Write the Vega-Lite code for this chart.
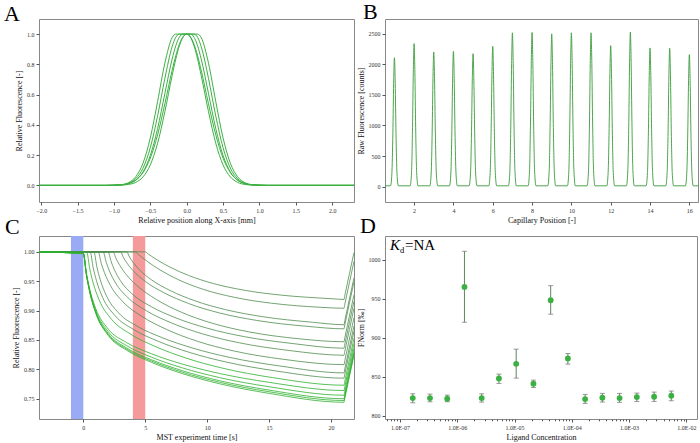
{
  "$schema": "https://vega.github.io/schema/vega-lite/v6.json",
  "background": "white",
  "padding": {"left": 3, "top": 0, "right": 0, "bottom": 0},
  "columns": 2,
  "spacing": {"row": 34, "column": 31},
  "bounds": "flush",
  "datasets": {
    "a": [
      {"x": -2.03, "a1": 0, "a2": 0, "a3": 0, "a4": 0, "a5": 0},
      {"x": -1.1, "a1": 0, "a2": 0, "a3": 0, "a4": 0, "a5": 0},
      {"x": -0.9, "a1": 0.004, "a2": 0.002, "a3": 0.003, "a4": 0.004, "a5": 0.005},
      {"x": -0.8, "a1": 0.012, "a2": 0.006, "a3": 0.011, "a4": 0.014, "a5": 0.018},
      {"x": -0.7, "a1": 0.035, "a2": 0.02, "a3": 0.034, "a4": 0.044, "a5": 0.057},
      {"x": -0.6, "a1": 0.085, "a2": 0.056, "a3": 0.089, "a4": 0.114, "a5": 0.147},
      {"x": -0.5, "a1": 0.18, "a2": 0.135, "a3": 0.198, "a4": 0.249, "a5": 0.314},
      {"x": -0.4, "a1": 0.334, "a2": 0.278, "a3": 0.375, "a4": 0.458, "a5": 0.554},
      {"x": -0.3, "a1": 0.539, "a2": 0.487, "a3": 0.607, "a4": 0.707, "a5": 0.808},
      {"x": -0.2, "a1": 0.76, "a2": 0.726, "a3": 0.835, "a4": 0.917, "a5": 0.977},
      {"x": -0.15, "a1": 0.857, "a2": 0.835, "a3": 0.923, "a4": 0.979, "a5": 1},
      {"x": -0.1, "a1": 0.934, "a2": 0.923, "a3": 0.98, "a4": 1, "a5": 1},
      {"x": -0.05, "a1": 0.983, "a2": 0.98, "a3": 1, "a4": 1, "a5": 1},
      {"x": 0, "a1": 1, "a2": 1, "a3": 1, "a4": 1, "a5": 1},
      {"x": 0.05, "a1": 0.983, "a2": 0.98, "a3": 1, "a4": 1, "a5": 1},
      {"x": 0.1, "a1": 0.934, "a2": 0.923, "a3": 0.98, "a4": 1, "a5": 1},
      {"x": 0.15, "a1": 0.857, "a2": 0.835, "a3": 0.923, "a4": 0.979, "a5": 1},
      {"x": 0.2, "a1": 0.76, "a2": 0.726, "a3": 0.835, "a4": 0.917, "a5": 0.977},
      {"x": 0.3, "a1": 0.539, "a2": 0.487, "a3": 0.607, "a4": 0.707, "a5": 0.808},
      {"x": 0.4, "a1": 0.334, "a2": 0.278, "a3": 0.375, "a4": 0.458, "a5": 0.554},
      {"x": 0.5, "a1": 0.18, "a2": 0.135, "a3": 0.198, "a4": 0.249, "a5": 0.314},
      {"x": 0.6, "a1": 0.085, "a2": 0.056, "a3": 0.089, "a4": 0.114, "a5": 0.147},
      {"x": 0.7, "a1": 0.035, "a2": 0.02, "a3": 0.034, "a4": 0.044, "a5": 0.057},
      {"x": 0.8, "a1": 0.012, "a2": 0.006, "a3": 0.011, "a4": 0.014, "a5": 0.018},
      {"x": 0.9, "a1": 0.004, "a2": 0.002, "a3": 0.003, "a4": 0.004, "a5": 0.005},
      {"x": 1.1, "a1": 0, "a2": 0, "a3": 0, "a4": 0, "a5": 0},
      {"x": 2.3, "a1": 0, "a2": 0, "a3": 0, "a4": 0, "a5": 0}
    ],
    "b": [
      {"x": 0.52, "y": 12},
      {"x": 0.8, "y": 12}, {"x": 0.87, "y": 213}, {"x": 0.92, "y": 872}, {"x": 0.96, "y": 1690}, {"x": 1, "y": 2109}, {"x": 1.04, "y": 1690}, {"x": 1.08, "y": 872}, {"x": 1.13, "y": 213}, {"x": 1.2, "y": 12},
      {"x": 1.8, "y": 12}, {"x": 1.87, "y": 235}, {"x": 1.92, "y": 966}, {"x": 1.96, "y": 1874}, {"x": 2, "y": 2340}, {"x": 2.04, "y": 1874}, {"x": 2.08, "y": 966}, {"x": 2.13, "y": 235}, {"x": 2.2, "y": 12},
      {"x": 2.8, "y": 12}, {"x": 2.87, "y": 222}, {"x": 2.92, "y": 910}, {"x": 2.96, "y": 1765}, {"x": 3, "y": 2203}, {"x": 3.04, "y": 1765}, {"x": 3.08, "y": 910}, {"x": 3.13, "y": 222}, {"x": 3.2, "y": 12},
      {"x": 3.8, "y": 12}, {"x": 3.87, "y": 223}, {"x": 3.92, "y": 915}, {"x": 3.96, "y": 1774}, {"x": 4, "y": 2214}, {"x": 4.04, "y": 1774}, {"x": 4.08, "y": 915}, {"x": 4.13, "y": 223}, {"x": 4.2, "y": 12},
      {"x": 4.8, "y": 12}, {"x": 4.87, "y": 220}, {"x": 4.92, "y": 899}, {"x": 4.96, "y": 1742}, {"x": 5, "y": 2175}, {"x": 5.04, "y": 1742}, {"x": 5.08, "y": 899}, {"x": 5.13, "y": 220}, {"x": 5.2, "y": 12},
      {"x": 5.8, "y": 12}, {"x": 5.87, "y": 231}, {"x": 5.92, "y": 948}, {"x": 5.96, "y": 1839}, {"x": 6, "y": 2296}, {"x": 6.04, "y": 1839}, {"x": 6.08, "y": 948}, {"x": 6.13, "y": 231}, {"x": 6.2, "y": 12},
      {"x": 6.8, "y": 12}, {"x": 6.87, "y": 252}, {"x": 6.92, "y": 1039}, {"x": 6.96, "y": 2016}, {"x": 7, "y": 2517}, {"x": 7.04, "y": 2016}, {"x": 7.08, "y": 1039}, {"x": 7.13, "y": 252}, {"x": 7.2, "y": 12},
      {"x": 7.8, "y": 12}, {"x": 7.87, "y": 253}, {"x": 7.92, "y": 1041}, {"x": 7.96, "y": 2020}, {"x": 8, "y": 2522}, {"x": 8.04, "y": 2020}, {"x": 8.08, "y": 1041}, {"x": 8.13, "y": 253}, {"x": 8.2, "y": 12},
      {"x": 8.8, "y": 12}, {"x": 8.87, "y": 251}, {"x": 8.92, "y": 1032}, {"x": 8.96, "y": 2002}, {"x": 9, "y": 2500}, {"x": 9.04, "y": 2002}, {"x": 9.08, "y": 1032}, {"x": 9.13, "y": 251}, {"x": 9.2, "y": 12},
      {"x": 9.8, "y": 12}, {"x": 9.87, "y": 252}, {"x": 9.92, "y": 1039}, {"x": 9.96, "y": 2016}, {"x": 10, "y": 2517}, {"x": 10.04, "y": 2016}, {"x": 10.08, "y": 1039}, {"x": 10.13, "y": 252}, {"x": 10.2, "y": 12},
      {"x": 10.8, "y": 12}, {"x": 10.87, "y": 252}, {"x": 10.92, "y": 1039}, {"x": 10.96, "y": 2016}, {"x": 11, "y": 2517}, {"x": 11.04, "y": 2016}, {"x": 11.08, "y": 1039}, {"x": 11.13, "y": 252}, {"x": 11.2, "y": 12},
      {"x": 11.8, "y": 12}, {"x": 11.87, "y": 232}, {"x": 11.92, "y": 953}, {"x": 11.96, "y": 1848}, {"x": 12, "y": 2307}, {"x": 12.04, "y": 1848}, {"x": 12.08, "y": 953}, {"x": 12.13, "y": 232}, {"x": 12.2, "y": 12},
      {"x": 12.8, "y": 12}, {"x": 12.87, "y": 254}, {"x": 12.92, "y": 1044}, {"x": 12.96, "y": 2025}, {"x": 13, "y": 2528}, {"x": 13.04, "y": 2025}, {"x": 13.08, "y": 1044}, {"x": 13.13, "y": 254}, {"x": 13.2, "y": 12},
      {"x": 13.8, "y": 12}, {"x": 13.87, "y": 229}, {"x": 13.92, "y": 937}, {"x": 13.96, "y": 1818}, {"x": 14, "y": 2269}, {"x": 14.04, "y": 1818}, {"x": 14.08, "y": 937}, {"x": 14.13, "y": 229}, {"x": 14.2, "y": 12},
      {"x": 14.8, "y": 12}, {"x": 14.87, "y": 228}, {"x": 14.92, "y": 935}, {"x": 14.96, "y": 1813}, {"x": 15, "y": 2263}, {"x": 15.04, "y": 1813}, {"x": 15.08, "y": 935}, {"x": 15.13, "y": 228}, {"x": 15.2, "y": 12},
      {"x": 15.8, "y": 12}, {"x": 15.87, "y": 218}, {"x": 15.92, "y": 892}, {"x": 15.96, "y": 1730}, {"x": 16, "y": 2159}, {"x": 16.04, "y": 1730}, {"x": 16.08, "y": 892}, {"x": 16.13, "y": 218}, {"x": 16.2, "y": 12},
      {"x": 16.44, "y": 12}
    ],
    "bands": [
      {"band": "baseline", "t": -1, "t2": 0},
      {"band": "heating", "t": 4, "t2": 5}
    ],
    "c": [
      {"k": 1, "t": -3.6, "v": 1}, {"k": 1, "t": 5, "v": 1}, {"k": 1, "t": 5.25, "v": 0.9962}, {"k": 1, "t": 5.5, "v": 0.9926}, {"k": 1, "t": 6, "v": 0.9858}, {"k": 1, "t": 7, "v": 0.974}, {"k": 1, "t": 8.5, "v": 0.9599}, {"k": 1, "t": 10.5, "v": 0.9461}, {"k": 1, "t": 13, "v": 0.9347}, {"k": 1, "t": 16, "v": 0.9263}, {"k": 1, "t": 20, "v": 0.9203}, {"k": 1, "t": 21.05, "v": 0.919}, {"k": 1, "t": 21.12, "v": 0.926}, {"k": 1, "t": 21.86, "v": 0.999},
      {"k": 2, "t": -3.6, "v": 1}, {"k": 2, "t": 4.2, "v": 1}, {"k": 2, "t": 4.45, "v": 0.9955}, {"k": 2, "t": 4.7, "v": 0.9912}, {"k": 2, "t": 5.2, "v": 0.9832}, {"k": 2, "t": 6.2, "v": 0.9692}, {"k": 2, "t": 7.7, "v": 0.9524}, {"k": 2, "t": 9.7, "v": 0.9361}, {"k": 2, "t": 12.2, "v": 0.9226}, {"k": 2, "t": 15.2, "v": 0.9126}, {"k": 2, "t": 19.2, "v": 0.9056}, {"k": 2, "t": 21.05, "v": 0.904}, {"k": 2, "t": 21.12, "v": 0.911}, {"k": 2, "t": 21.86, "v": 0.984},
      {"k": 3, "t": -3.6, "v": 1}, {"k": 3, "t": 3.5, "v": 1}, {"k": 3, "t": 3.75, "v": 0.9905}, {"k": 3, "t": 4, "v": 0.9826}, {"k": 3, "t": 4.5, "v": 0.9701}, {"k": 3, "t": 5.5, "v": 0.9525}, {"k": 3, "t": 7, "v": 0.9343}, {"k": 3, "t": 9, "v": 0.9168}, {"k": 3, "t": 11.5, "v": 0.9016}, {"k": 3, "t": 14.5, "v": 0.8896}, {"k": 3, "t": 18.5, "v": 0.8802}, {"k": 3, "t": 21.05, "v": 0.876}, {"k": 3, "t": 21.12, "v": 0.883}, {"k": 3, "t": 21.86, "v": 0.956},
      {"k": 4, "t": -3.6, "v": 1}, {"k": 4, "t": 3, "v": 1}, {"k": 4, "t": 3.25, "v": 0.99}, {"k": 4, "t": 3.5, "v": 0.9816}, {"k": 4, "t": 4, "v": 0.9684}, {"k": 4, "t": 5, "v": 0.9498}, {"k": 4, "t": 6.5, "v": 0.9306}, {"k": 4, "t": 8.5, "v": 0.9121}, {"k": 4, "t": 11, "v": 0.896}, {"k": 4, "t": 14, "v": 0.8833}, {"k": 4, "t": 18, "v": 0.8734}, {"k": 4, "t": 21.05, "v": 0.869}, {"k": 4, "t": 21.12, "v": 0.876}, {"k": 4, "t": 21.86, "v": 0.949},
      {"k": 5, "t": -3.6, "v": 1}, {"k": 5, "t": 2.4, "v": 1}, {"k": 5, "t": 2.65, "v": 0.9883}, {"k": 5, "t": 2.9, "v": 0.9786}, {"k": 5, "t": 3.4, "v": 0.9631}, {"k": 5, "t": 4.4, "v": 0.9414}, {"k": 5, "t": 5.9, "v": 0.9189}, {"k": 5, "t": 7.9, "v": 0.8974}, {"k": 5, "t": 10.4, "v": 0.8786}, {"k": 5, "t": 13.4, "v": 0.8637}, {"k": 5, "t": 17.4, "v": 0.8521}, {"k": 5, "t": 21.05, "v": 0.847}, {"k": 5, "t": 21.12, "v": 0.854}, {"k": 5, "t": 21.86, "v": 0.927},
      {"k": 6, "t": -3.6, "v": 1}, {"k": 6, "t": 2, "v": 1}, {"k": 6, "t": 2.25, "v": 0.9833}, {"k": 6, "t": 2.5, "v": 0.97}, {"k": 6, "t": 3, "v": 0.9508}, {"k": 6, "t": 4, "v": 0.9273}, {"k": 6, "t": 5.5, "v": 0.9066}, {"k": 6, "t": 7.5, "v": 0.8874}, {"k": 6, "t": 10, "v": 0.8701}, {"k": 6, "t": 13, "v": 0.8557}, {"k": 6, "t": 17, "v": 0.8437}, {"k": 6, "t": 21.05, "v": 0.836}, {"k": 6, "t": 21.12, "v": 0.843}, {"k": 6, "t": 21.86, "v": 0.916},
      {"k": 7, "t": -3.6, "v": 1}, {"k": 7, "t": 1.6, "v": 1}, {"k": 7, "t": 1.85, "v": 0.9821}, {"k": 7, "t": 2.1, "v": 0.9678}, {"k": 7, "t": 2.6, "v": 0.9472}, {"k": 7, "t": 3.6, "v": 0.922}, {"k": 7, "t": 5.1, "v": 0.8997}, {"k": 7, "t": 7.1, "v": 0.8792}, {"k": 7, "t": 9.6, "v": 0.8606}, {"k": 7, "t": 12.6, "v": 0.8452}, {"k": 7, "t": 16.6, "v": 0.8322}, {"k": 7, "t": 21.05, "v": 0.824}, {"k": 7, "t": 21.12, "v": 0.831}, {"k": 7, "t": 21.86, "v": 0.904},
      {"k": 8, "t": -3.6, "v": 1}, {"k": 8, "t": 1.2, "v": 1}, {"k": 8, "t": 1.45, "v": 0.9804}, {"k": 8, "t": 1.7, "v": 0.9649}, {"k": 8, "t": 2.2, "v": 0.9424}, {"k": 8, "t": 3.2, "v": 0.9149}, {"k": 8, "t": 4.7, "v": 0.8906}, {"k": 8, "t": 6.7, "v": 0.8682}, {"k": 8, "t": 9.2, "v": 0.8479}, {"k": 8, "t": 12.2, "v": 0.8311}, {"k": 8, "t": 16.2, "v": 0.817}, {"k": 8, "t": 21.05, "v": 0.808}, {"k": 8, "t": 21.12, "v": 0.815}, {"k": 8, "t": 21.86, "v": 0.888},
      {"k": 9, "t": -3.6, "v": 1}, {"k": 9, "t": 0.85, "v": 1}, {"k": 9, "t": 1.1, "v": 0.9739}, {"k": 9, "t": 1.35, "v": 0.9538}, {"k": 9, "t": 1.85, "v": 0.926}, {"k": 9, "t": 2.85, "v": 0.8961}, {"k": 9, "t": 4.35, "v": 0.8735}, {"k": 9, "t": 6.35, "v": 0.8541}, {"k": 9, "t": 8.85, "v": 0.8361}, {"k": 9, "t": 11.85, "v": 0.8202}, {"k": 9, "t": 15.85, "v": 0.8058}, {"k": 9, "t": 21.05, "v": 0.794}, {"k": 9, "t": 21.12, "v": 0.801}, {"k": 9, "t": 21.86, "v": 0.874},
      {"k": 10, "t": -3.6, "v": 1}, {"k": 10, "t": 0.55, "v": 1}, {"k": 10, "t": 0.8, "v": 0.9727}, {"k": 10, "t": 1.05, "v": 0.9517}, {"k": 10, "t": 1.55, "v": 0.9228}, {"k": 10, "t": 2.55, "v": 0.8916}, {"k": 10, "t": 4.05, "v": 0.868}, {"k": 10, "t": 6.05, "v": 0.8478}, {"k": 10, "t": 8.55, "v": 0.829}, {"k": 10, "t": 11.55, "v": 0.8124}, {"k": 10, "t": 15.55, "v": 0.7973}, {"k": 10, "t": 21.05, "v": 0.785}, {"k": 10, "t": 21.12, "v": 0.792}, {"k": 10, "t": 21.86, "v": 0.865},
      {"k": 11, "t": -3.6, "v": 1}, {"k": 11, "t": 0.27, "v": 1}, {"k": 11, "t": 0.52, "v": 0.9712}, {"k": 11, "t": 0.77, "v": 0.949}, {"k": 11, "t": 1.27, "v": 0.9185}, {"k": 11, "t": 2.27, "v": 0.8855}, {"k": 11, "t": 3.77, "v": 0.8606}, {"k": 11, "t": 5.77, "v": 0.8393}, {"k": 11, "t": 8.27, "v": 0.8194}, {"k": 11, "t": 11.27, "v": 0.8019}, {"k": 11, "t": 15.27, "v": 0.786}, {"k": 11, "t": 21.05, "v": 0.773}, {"k": 11, "t": 21.12, "v": 0.78}, {"k": 11, "t": 21.86, "v": 0.853},
      {"k": 12, "t": -3.6, "v": 1}, {"k": 12, "t": 0, "v": 0.997}, {"k": 12, "t": 0.25, "v": 0.9635}, {"k": 12, "t": 0.5, "v": 0.938}, {"k": 12, "t": 1, "v": 0.9037}, {"k": 12, "t": 2, "v": 0.8689}, {"k": 12, "t": 3.5, "v": 0.8455}, {"k": 12, "t": 5.5, "v": 0.8266}, {"k": 12, "t": 8, "v": 0.809}, {"k": 12, "t": 11, "v": 0.793}, {"k": 12, "t": 15, "v": 0.7779}, {"k": 12, "t": 21.05, "v": 0.764}, {"k": 12, "t": 21.12, "v": 0.771}, {"k": 12, "t": 21.86, "v": 0.844},
      {"k": 13, "t": -3.6, "v": 1}, {"k": 13, "t": 0, "v": 0.997}, {"k": 13, "t": 0.25, "v": 0.9623}, {"k": 13, "t": 0.5, "v": 0.936}, {"k": 13, "t": 1, "v": 0.9005}, {"k": 13, "t": 2, "v": 0.8645}, {"k": 13, "t": 3.5, "v": 0.8403}, {"k": 13, "t": 5.5, "v": 0.8208}, {"k": 13, "t": 8, "v": 0.8025}, {"k": 13, "t": 11, "v": 0.786}, {"k": 13, "t": 15, "v": 0.7704}, {"k": 13, "t": 21.05, "v": 0.756}, {"k": 13, "t": 21.12, "v": 0.763}, {"k": 13, "t": 21.86, "v": 0.836},
      {"k": 14, "t": -3.6, "v": 1}, {"k": 14, "t": 0, "v": 0.997}, {"k": 14, "t": 0.25, "v": 0.9615}, {"k": 14, "t": 0.5, "v": 0.9345}, {"k": 14, "t": 1, "v": 0.8981}, {"k": 14, "t": 2, "v": 0.8612}, {"k": 14, "t": 3.5, "v": 0.8364}, {"k": 14, "t": 5.5, "v": 0.8164}, {"k": 14, "t": 8, "v": 0.7977}, {"k": 14, "t": 11, "v": 0.7807}, {"k": 14, "t": 15, "v": 0.7647}, {"k": 14, "t": 21.05, "v": 0.75}, {"k": 14, "t": 21.12, "v": 0.757}, {"k": 14, "t": 21.86, "v": 0.83},
      {"k": 15, "t": -3.6, "v": 1}, {"k": 15, "t": 0, "v": 0.997}, {"k": 15, "t": 0.25, "v": 0.961}, {"k": 15, "t": 0.5, "v": 0.9337}, {"k": 15, "t": 1, "v": 0.8969}, {"k": 15, "t": 2, "v": 0.8596}, {"k": 15, "t": 3.5, "v": 0.8344}, {"k": 15, "t": 5.5, "v": 0.8142}, {"k": 15, "t": 8, "v": 0.7952}, {"k": 15, "t": 11, "v": 0.7781}, {"k": 15, "t": 15, "v": 0.7619}, {"k": 15, "t": 21.05, "v": 0.747}, {"k": 15, "t": 21.12, "v": 0.754}, {"k": 15, "t": 21.86, "v": 0.827},
      {"k": 16, "t": -3.6, "v": 1}, {"k": 16, "t": 0, "v": 0.997}, {"k": 16, "t": 0.25, "v": 0.9606}, {"k": 16, "t": 0.5, "v": 0.933}, {"k": 16, "t": 1, "v": 0.8957}, {"k": 16, "t": 2, "v": 0.8579}, {"k": 16, "t": 3.5, "v": 0.8325}, {"k": 16, "t": 5.5, "v": 0.812}, {"k": 16, "t": 8, "v": 0.7928}, {"k": 16, "t": 11, "v": 0.7755}, {"k": 16, "t": 15, "v": 0.7591}, {"k": 16, "t": 21.05, "v": 0.744}, {"k": 16, "t": 21.12, "v": 0.751}, {"k": 16, "t": 21.86, "v": 0.824}
    ],
    "d": [
      {"c": 1.67e-7, "f": 822.6, "lo": 816.6, "hi": 828.1},
      {"c": 3.34e-7, "f": 822.6, "lo": 817.9, "hi": 827.7},
      {"c": 6.68e-7, "f": 821.7, "lo": 817.9, "hi": 826.4},
      {"c": 1.336e-6, "f": 965, "lo": 919.8, "hi": 1010.7},
      {"c": 2.67e-6, "f": 822.6, "lo": 817.5, "hi": 828.1},
      {"c": 5.34e-6, "f": 847.8, "lo": 841.4, "hi": 853.3},
      {"c": 1.069e-5, "f": 866.5, "lo": 848.2, "hi": 885.3},
      {"c": 2.14e-5, "f": 841, "lo": 836.2, "hi": 845.6},
      {"c": 4.28e-5, "f": 948, "lo": 930.1, "hi": 966.7},
      {"c": 8.55e-5, "f": 873.3, "lo": 866.1, "hi": 879.7},
      {"c": 1.71e-4, "f": 821.3, "lo": 815.8, "hi": 827.3},
      {"c": 3.42e-4, "f": 823, "lo": 817.5, "hi": 828.6},
      {"c": 6.84e-4, "f": 822.6, "lo": 817.1, "hi": 828.6},
      {"c": 1.368e-3, "f": 823.9, "lo": 818.3, "hi": 829},
      {"c": 2.74e-3, "f": 824.3, "lo": 818.3, "hi": 830.3},
      {"c": 5.47e-3, "f": 825.6, "lo": 819.2, "hi": 831.6}
    ],
    "kd": [{"part": "K"}],
    "kdsub": [{"part": "d"}],
    "kdval": [{"part": "=NA"}]
  },
  "concat": [
    {
      "width": 315,
      "height": 183,
      "title": {"text": "A", "anchor": "start", "frame": "group", "fontSize": 22, "fontWeight": "normal", "font": "Liberation Serif", "baseline": "alphabetic", "dx": -35, "offset": 0, "dy": 24},
      "data": {"name": "a"},
      "transform": [{"fold": ["a1", "a2", "a3", "a4", "a5"], "as": ["k", "y"]}],
      "mark": {"type": "line", "interpolate": "monotone", "strokeWidth": 1, "color": "#3cb043", "clip": true},
      "encoding": {
        "x": {"field": "x", "type": "quantitative", "scale": {"domain": [-2.03, 2.3], "nice": false, "zero": false},
              "axis": {"title": "Relative position along X-axis [mm]", "values": [-2, -1.5, -1, -0.5, 0, 0.5, 1, 1.5, 2], "format": ".1f"}},
        "y": {"field": "y", "type": "quantitative", "scale": {"domain": [-0.11, 1.1], "nice": false},
              "axis": {"title": "Relative Fluorescence [-]", "values": [0, 0.2, 0.4, 0.6, 0.8, 1], "format": ".1f"}},
        "detail": {"field": "k", "type": "nominal"}
      }
    },
    {
      "width": 313,
      "height": 183,
      "title": {"text": "B", "anchor": "start", "frame": "group", "fontSize": 22, "fontWeight": "normal", "font": "Liberation Serif", "baseline": "alphabetic", "dx": -22, "offset": 0, "dy": 22},
      "data": {"name": "b"},
      "mark": {"type": "line", "interpolate": "monotone", "strokeWidth": 0.9, "color": "#3a9a3a", "clip": true},
      "encoding": {
        "x": {"field": "x", "type": "quantitative", "scale": {"domain": [0.52, 16.44], "nice": false, "zero": false},
              "axis": {"title": "Capillary Position [-]", "values": [2, 4, 6, 8, 10, 12, 14, 16]}},
        "y": {"field": "y", "type": "quantitative", "scale": {"domain": [-253, 2743], "nice": false},
              "axis": {"title": "Raw Fluorescence [counts]", "values": [0, 500, 1000, 1500, 2000, 2500], "format": "d"}}
      }
    },
    {
      "width": 315,
      "height": 183,
      "title": {"text": "C", "anchor": "start", "frame": "group", "fontSize": 22, "fontWeight": "normal", "font": "Liberation Serif", "baseline": "alphabetic", "dx": -34, "offset": 0, "dy": 20},
      "encoding": {
        "x": {"field": "t", "type": "quantitative", "scale": {"domain": [-3.58, 21.86], "nice": false, "zero": false},
              "axis": {"title": "MST experiment time [s]", "values": [0, 5, 10, 15, 20]}}
      },
      "layer": [
        {
          "data": {"name": "bands"},
          "mark": {"type": "rect"},
          "encoding": {
            "x2": {"field": "t2"},
            "color": {"field": "band", "type": "nominal", "scale": {"domain": ["baseline", "heating"], "range": ["#9aabf5", "#f49a9a"]}, "legend": null}
          }
        },
        {
          "data": {"name": "c"},
          "mark": {"type": "line", "interpolate": "monotone", "strokeWidth": 0.8, "clip": true},
          "encoding": {
            "y": {"field": "v", "type": "quantitative", "scale": {"domain": [0.7155, 1.027], "nice": false, "zero": false},
                  "axis": {"title": "Relative Fluorescence [-]", "values": [0.75, 0.8, 0.85, 0.9, 0.95, 1], "format": ".2f"}},
            "detail": {"field": "k", "type": "nominal"},
            "color": {"condition": {"test": "datum.k >= 11", "value": "#2fb02f"}, "value": "#4f8d4f"}
          }
        }
      ]
    },
    {
      "width": 312,
      "height": 183,
      "title": {"text": "D", "anchor": "start", "frame": "group", "fontSize": 22, "fontWeight": "normal", "font": "Liberation Serif", "baseline": "alphabetic", "dx": -25, "offset": 0, "dy": 19},
      "layer": [
        {
          "data": {"name": "d"},
          "mark": {"type": "rule", "color": "#5a8a5a", "strokeWidth": 1},
          "encoding": {
            "x": {"field": "c", "type": "quantitative", "scale": {"type": "log", "domain": [5.47e-8, 1.538e-2], "nice": false},
                  "axis": {
                    "title": "Ligand Concentration",
                    "values": [6e-8, 7e-8, 8e-8, 9e-8,
                               1e-7, 2e-7, 3e-7, 4e-7, 5e-7, 6e-7, 7e-7, 8e-7, 9e-7,
                               1e-6, 2e-6, 3e-6, 4e-6, 5e-6, 6e-6, 7e-6, 8e-6, 9e-6,
                               1e-5, 2e-5, 3e-5, 4e-5, 5e-5, 6e-5, 7e-5, 8e-5, 9e-5,
                               1e-4, 2e-4, 3e-4, 4e-4, 5e-4, 6e-4, 7e-4, 8e-4, 9e-4,
                               1e-3, 2e-3, 3e-3, 4e-3, 5e-3, 6e-3, 7e-3, 8e-3, 9e-3,
                               1e-2],
                    "labelExpr": "abs(log(datum.value) / LN10 - round(log(datum.value) / LN10)) < 0.001 ? '1.0E-0' + round(-log(datum.value) / LN10) : ''",
                    "tickSize": {"condition": {"test": "abs(log(datum.value) / LN10 - round(log(datum.value) / LN10)) < 0.001", "value": 3}, "value": 1.8}
                  }},
            "y": {"field": "lo", "type": "quantitative", "scale": {"domain": [795.8, 1030.3], "nice": false, "zero": false},
                  "axis": {"title": "FNorm [‰]", "values": [800, 850, 900, 950, 1000], "format": "d"}},
            "y2": {"field": "hi"}
          }
        },
        {
          "data": {"name": "d"},
          "mark": {"type": "tick", "orient": "horizontal", "size": 5, "thickness": 1, "color": "#707070"},
          "encoding": {
            "x": {"field": "c", "type": "quantitative"},
            "y": {"field": "hi", "type": "quantitative", "title": "FNorm [‰]"}
          }
        },
        {
          "data": {"name": "d"},
          "mark": {"type": "tick", "orient": "horizontal", "size": 5, "thickness": 1, "color": "#707070"},
          "encoding": {
            "x": {"field": "c", "type": "quantitative"},
            "y": {"field": "lo", "type": "quantitative", "title": "FNorm [‰]"}
          }
        },
        {
          "data": {"name": "d"},
          "mark": {"type": "circle", "size": 34, "color": "#3cb043", "opacity": 1},
          "encoding": {
            "x": {"field": "c", "type": "quantitative"},
            "y": {"field": "f", "type": "quantitative", "title": "FNorm [‰]"}
          }
        },
        {
          "data": {"name": "kd"},
          "mark": {"type": "text", "font": "Liberation Serif", "fontStyle": "italic", "fontSize": 15, "align": "left", "baseline": "alphabetic", "color": "#000"},
          "encoding": {
            "x": {"datum": 6.7e-8},
            "y": {"datum": 1012},
            "text": {"field": "part"}
          }
        },
        {
          "data": {"name": "kdsub"},
          "mark": {"type": "text", "font": "Liberation Serif", "fontSize": 8.5, "align": "left", "baseline": "alphabetic", "dx": 10, "dy": 3, "color": "#000"},
          "encoding": {
            "x": {"datum": 6.7e-8},
            "y": {"datum": 1012},
            "text": {"field": "part"}
          }
        },
        {
          "data": {"name": "kdval"},
          "mark": {"type": "text", "font": "Liberation Serif", "fontSize": 15, "align": "left", "baseline": "alphabetic", "dx": 15, "color": "#000"},
          "encoding": {
            "x": {"datum": 6.7e-8},
            "y": {"datum": 1012},
            "text": {"field": "part"}
          }
        }
      ]
    }
  ],
  "config": {
    "font": "Liberation Serif",
    "view": {"stroke": "#888888", "strokeWidth": 1},
    "axis": {
      "labelFont": "Liberation Serif",
      "labelFontSize": 6,
      "labelColor": "#333333",
      "labelFlush": false,
      "labelOverlap": false,
      "labelPadding": 2,
      "titleFont": "Liberation Serif",
      "titleFontSize": 8,
      "titleFontWeight": "normal",
      "titleColor": "#111111",
      "titlePadding": 3,
      "tickColor": "#555555",
      "tickSize": 3,
      "domain": false,
      "grid": false
    }
  }
}
